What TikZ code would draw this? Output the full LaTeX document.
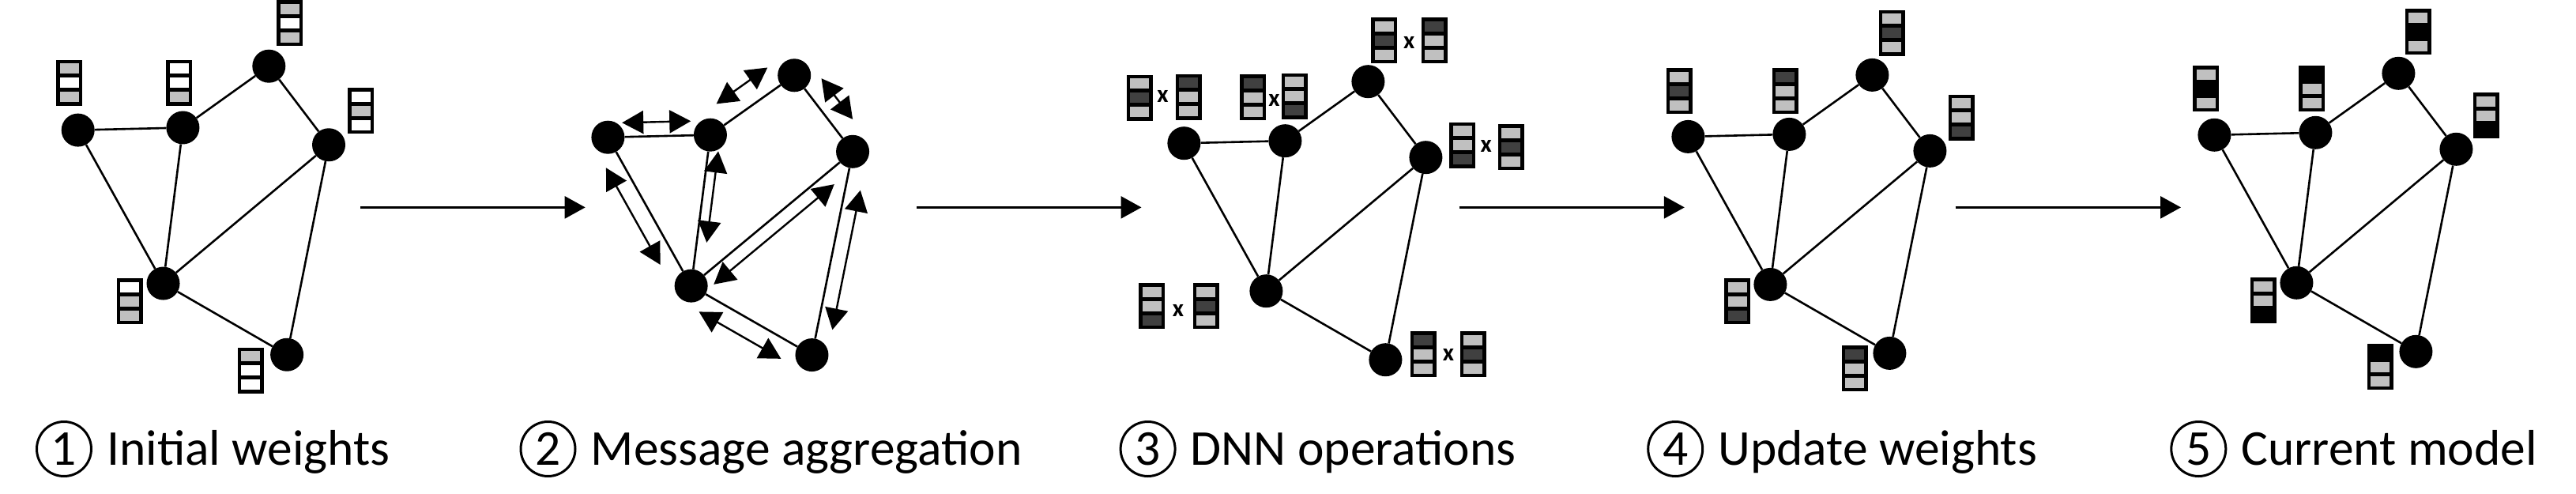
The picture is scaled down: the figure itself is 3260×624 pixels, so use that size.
\documentclass[tikz,border=0pt]{standalone}
\usepackage{fontspec}
\setmainfont{Carlito}
\usepackage{xcolor}
\usepackage{tikz}
\usetikzlibrary{arrows.meta,positioning}
\definecolor{wlight}{HTML}{C0C0C0}
\definecolor{wdark}{HTML}{404040}
\tikzset{
  gnode/.style = {circle, fill=black, minimum size=42pt, inner sep=0pt},% graph node
  link/.style = {line width=2.6pt},% graph edge
  msg/.style = {line width=2.4pt,
    {Triangle[length=27pt,width=29pt]}-{Triangle[length=27pt,width=29pt]}},% message
  flow/.style = {line width=2.6pt, -{Triangle[length=26pt,width=28pt]}},% step arrow
  stepnum/.style = {circle, draw, line width=3pt, minimum size=69pt, inner sep=0pt,
    font=\fontsize{63.5}{70}\selectfont},
  stepname/.style = {inner sep=0pt, font=\fontsize{63.5}{70}\selectfont},
  mult/.style = {inner sep=0pt, font=\fontsize{31}{31}\selectfont\bfseries},
  pics/wvec/.style n args = {3}{code={
    \fill[black] (-16.5,-29) rectangle (16.5,29);
    \fill[#1] (-12,-24.5) rectangle (12,-11.5);
    \fill[#2] (-12,-6.5) rectangle (12,6.5);
    \fill[#3] (-12,11.5) rectangle (12,24.5);
  }}% weight vector
}

\begin{document}
\begin{tikzpicture}[x=1pt, y=-1pt]
\useasboundingbox (0,0) rectangle (3260,624);

% the same graph five times
\foreach \p/\gx/\gy/\sx/\sy in {1/98.7/164.6/1.037/1.037, 2/769.4/173.7/1.012/1.005,
    3/1498.4/181.2/1/1, 4/2136.4/172.9/1/1, 5/2802.4/170.8/1/1}{
  \begin{scope}[shift={(\gx,\gy)}, xscale=\sx, yscale=\sy]
    \node[gnode] (p\p a) at (0,0) {};
    \node[gnode] (p\p b) at (128,-3) {};
    \node[gnode] (p\p c) at (233,-78) {};
    \node[gnode] (p\p d) at (306,18) {};
    \node[gnode] (p\p e) at (104,187) {};
    \node[gnode] (p\p f) at (255,274) {};
    \draw[link] (p\p a) -- (p\p b) -- (p\p c) -- (p\p d) -- (p\p e) -- (p\p a)
      (p\p b) -- (p\p e) -- (p\p f) -- (p\p d);
  \end{scope}
}

% step arrows
\foreach \i/\xa/\xb in {1/456/740.7, 2/1160.3/1444.5, 3/1846.7/2131.8, 4/2474.7/2760}{
  \coordinate (from\i) at (\xa,262.4);
  \coordinate (to\i) at (\xb,262.4);
  \draw[flow] (from\i) -- (to\i);
}

% captions
\foreach \i/\cx/\txt in {1/81/Initial weights, 2/693.5/Message aggregation,
    3/1452.6/DNN operations, 4/2120.2/Update weights, 5/2782.3/Current model}{
  \node[stepnum] (num\i) at (\cx,568) {\i};
  \node[stepname, base right=18pt of num\i] (lbl\i) {\txt};
}

% 1: initial weights
\pic at (87.9,104.5) {wvec={wlight}{white}{wlight}};
\pic at (226.8,104.5) {wvec={white}{white}{wlight}};
\pic at (366.9,29) {wvec={wlight}{white}{wlight}};
\pic at (456.5,140.2) {wvec={white}{wlight}{white}};
\pic at (164.4,381) {wvec={white}{wlight}{wlight}};
\pic at (317.2,468.5) {wvec={wlight}{white}{white}};

% 2: messages along the edges
\draw[msg, shorten <=17.8pt, shorten >=24.7pt] ([shift={(0,-18)}]p2a.center) -- ([shift={(0,-18)}]p2b.center);
\draw[msg, shorten <=29pt, shorten >=21.9pt] ([shift={(-16,-22.5)}]p2b.center) -- ([shift={(-16,-22.5)}]p2c.center);
\draw[msg, shorten <=23.9pt, shorten >=32.5pt] ([shift={(19.8,-15.1)}]p2c.center) -- ([shift={(19.8,-15.1)}]p2d.center);
\draw[msg, shorten <=32.4pt, shorten >=42.4pt] ([shift={(-18.3,10.3)}]p2a.center) -- ([shift={(-18.3,10.3)}]p2e.center);
\draw[msg, shorten <=19.3pt, shorten >=56.8pt] ([shift={(12.5,1.6)}]p2b.center) -- ([shift={(12.5,1.6)}]p2e.center);
\draw[msg, shorten <=44.3pt, shorten >=23.2pt] ([shift={(10.8,13)}]p2d.center) -- ([shift={(10.8,13)}]p2e.center);
\draw[msg, shorten <=46pt, shorten >=36.3pt] ([shift={(18.8,3.8)}]p2d.center) -- ([shift={(18.8,3.8)}]p2f.center);
\draw[msg, shorten <=24.9pt, shorten >=31.5pt] ([shift={(-11.7,20.4)}]p2e.center) -- ([shift={(-11.7,20.4)}]p2f.center);

% 3: DNN operations
\pic at (1442.2,123.5) {wvec={wlight}{wdark}{wlight}};
\node[mult] (x3a) at (1471.5,122) {x};
\pic at (1504.4,122.5) {wvec={wdark}{wlight}{wlight}};
\pic at (1585.9,123.4) {wvec={wdark}{wlight}{wlight}};
\node[mult] (x3b) at (1612.4,126.5) {x};
\pic at (1638.4,121.6) {wvec={wlight}{wlight}{wdark}};
\pic at (1751.5,51.2) {wvec={wlight}{wdark}{wlight}};
\node[mult] (x3c) at (1783.3,54) {x};
\pic at (1815.4,51.2) {wvec={wdark}{wlight}{wlight}};
\pic at (1850.6,183.9) {wvec={wlight}{wlight}{wdark}};
\node[mult] (x3d) at (1880.7,185.3) {x};
\pic at (1912.4,186.1) {wvec={wlight}{wdark}{wlight}};
\pic at (1457.6,387.2) {wvec={wlight}{wlight}{wdark}};
\node[mult] (x3e) at (1491,393) {x};
\pic at (1526.4,387.2) {wvec={wlight}{wdark}{wlight}};
\pic at (1801.1,448.4) {wvec={wdark}{wlight}{wlight}};
\node[mult] (x3f) at (1833,448.6) {x};
\pic at (1864.1,448.4) {wvec={wlight}{wdark}{wlight}};

% 4: updated weights
\pic at (2125.4,115) {wvec={wlight}{wdark}{wlight}};
\pic at (2259.4,115) {wvec={wdark}{wlight}{wlight}};
\pic at (2394.2,41.9) {wvec={wlight}{wdark}{wlight}};
\pic at (2482.4,148.8) {wvec={wlight}{wlight}{wdark}};
\pic at (2198.8,381.4) {wvec={wlight}{wlight}{wdark}};
\pic at (2347.2,466.4) {wvec={wdark}{wlight}{wlight}};

% 5: current model
\pic at (2791.6,112) {wvec={wlight}{black}{wlight}};
\pic at (2925.5,112) {wvec={black}{wlight}{wlight}};
\pic at (3060.4,40) {wvec={wlight}{black}{wlight}};
\pic at (3146.4,146) {wvec={wlight}{wlight}{black}};
\pic at (2864.4,380) {wvec={wlight}{wlight}{black}};
\pic at (3012.4,464.4) {wvec={black}{wlight}{wlight}};
\end{tikzpicture}
\end{document}
